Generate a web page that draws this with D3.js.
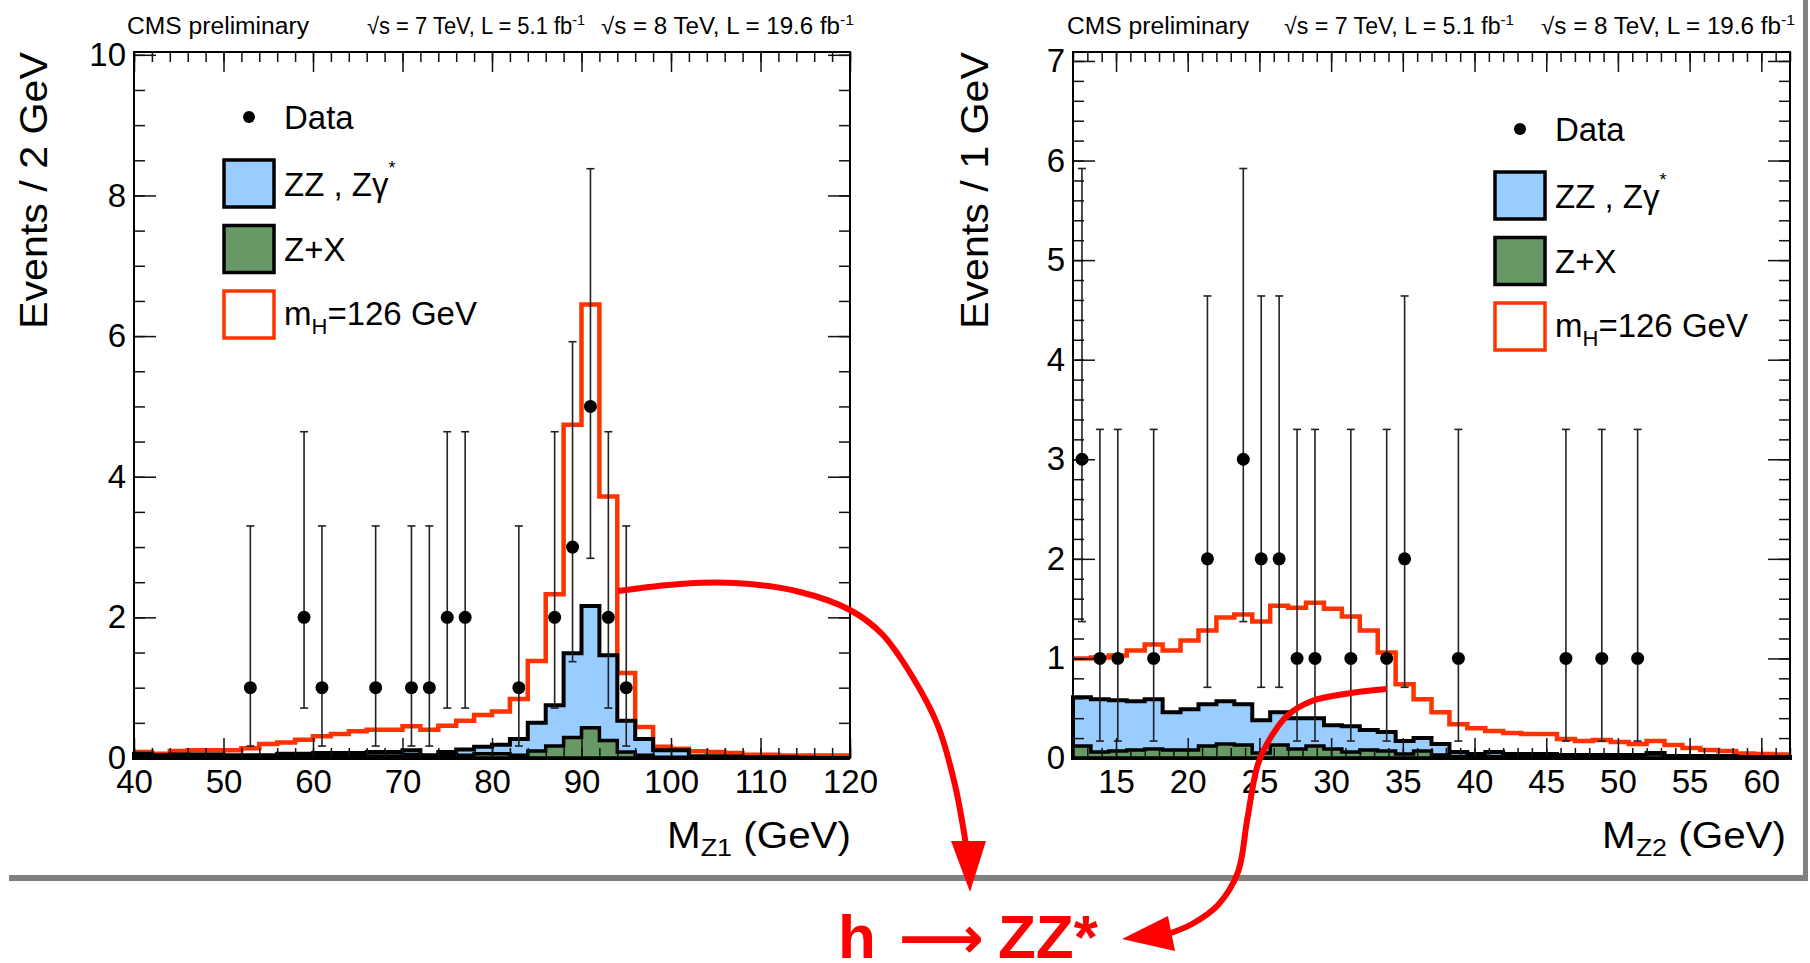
<!DOCTYPE html>
<html>
<head>
<meta charset="utf-8">
<script src="https://cdn.jsdelivr.net/npm/d3@7"></script>
<style>
  body { margin: 0; background: #fff; }
  svg { display: block; font-family: "Liberation Sans", Arial, Helvetica, sans-serif; }
</style>
</head>
<body>
<svg id="chart" width="1810" height="963"></svg>
<script>
// ---- M_Z1 panel: 40 bins of 2 GeV, 40..120
const z1Range = [40, 120];
const z1Bin = 2;
// stacked totals: signal+ZZ+Z+X (red), ZZ+Z+X (blue top), Z+X (green)
const z1Total = [0.085, 0.06, 0.1, 0.11, 0.11, 0.11, 0.14, 0.2, 0.22, 0.26,
                 0.31, 0.34, 0.38, 0.40, 0.40, 0.45, 0.40, 0.46, 0.53, 0.61,
                 0.66, 0.84, 1.38, 2.33, 4.74, 6.45, 3.72, 1.21, 0.44, 0.16,
                 0.13, 0.095, 0.085, 0.07, 0.045, 0.045, 0.035, 0.035, 0.035, 0.035];
const z1Bkg = [0.06, 0.04, 0.05, 0.05, 0.05, 0.04, 0.04, 0.04, 0.06, 0.06,
               0.07, 0.07, 0.07, 0.085, 0.085, 0.11, 0.04, 0.085, 0.12, 0.16,
               0.19, 0.27, 0.50, 0.75, 1.49, 2.16, 1.46, 0.53, 0.27, 0.11,
               0.11, 0.025, 0.025, 0.02, 0.01, 0.01, 0.01, 0.005, 0.0, 0.0];
const z1ZX = [0.025, 0.02, 0.02, 0.02, 0.02, 0.02, 0.02, 0.02, 0.02, 0.02,
              0.03, 0.03, 0.03, 0.03, 0.03, 0.05, 0.0, 0.04, 0.04, 0.06,
              0.06, 0.04, 0.1, 0.17, 0.29, 0.43, 0.25, 0.085, 0.04, 0.01,
              0.01, 0.01, 0.01, 0.01, 0.005, 0.005, 0.0, 0.0, 0.0, 0.0];
const z1DataX = [53, 59, 61, 67, 71, 73, 75, 77, 83, 87, 89, 91, 93, 95];
const z1DataN = [1, 2, 1, 1, 1, 1, 2, 2, 1, 2, 3, 5, 2, 1];
const z1ErrLo = [0.17, 0.71, 0.17, 0.17, 0.17, 0.17, 0.71, 0.71, 0.17, 0.71, 1.37, 2.84, 0.71, 0.17];
const z1ErrHi = [3.30, 4.64, 3.30, 3.30, 3.30, 3.30, 4.64, 4.64, 3.30, 4.64, 5.92, 8.38, 4.64, 3.30];

// ---- M_Z2 panel: 40 bins of 1.25 GeV, 12..62
const z2Range = [12, 62];
const z2Bin = 1.25;
const z2Total = [1.00, 1.01, 1.03, 1.08, 1.14, 1.08, 1.18, 1.28, 1.41, 1.44,
                 1.37, 1.53, 1.51, 1.56, 1.50, 1.42, 1.28, 1.06, 0.74, 0.59,
                 0.46, 0.34, 0.30, 0.27, 0.25, 0.24, 0.24, 0.19, 0.17, 0.18,
                 0.16, 0.14, 0.17, 0.13, 0.10, 0.08, 0.07, 0.045, 0.04, 0.035];
const z2Bkg = [0.61, 0.59, 0.58, 0.57, 0.59, 0.46, 0.49, 0.54, 0.57, 0.54,
               0.38, 0.46, 0.40, 0.40, 0.33, 0.32, 0.28, 0.26, 0.17, 0.20,
               0.14, 0.06, 0.04, 0.06, 0.04, 0.04, 0.04, 0.03, 0.03, 0.03,
               0.03, 0.03, 0.05, 0.02, 0.02, 0.02, 0.02, 0.01, 0.01, 0.01];
const z2ZX = [0.12, 0.06, 0.07, 0.08, 0.09, 0.08, 0.08, 0.12, 0.14, 0.13,
              0.05, 0.13, 0.09, 0.12, 0.09, 0.06, 0.08, 0.07, 0.04, 0.07,
              0.03, 0.015, 0.015, 0.015, 0.015, 0.01, 0.01, 0.01, 0.01, 0.01,
              0.01, 0.01, 0.04, 0.01, 0.01, 0.01, 0.01, 0.005, 0.005, 0.005];
const z2DataX = [12.625, 13.875, 15.125, 17.625, 21.375, 23.875, 25.125, 26.375, 27.625,
                 28.875, 31.375, 33.875, 35.125, 38.875, 46.375, 48.875, 51.375];
const z2DataN = [3, 1, 1, 1, 2, 3, 2, 2, 1, 1, 1, 1, 2, 1, 1, 1, 1];
const z2ErrLo = [1.37, 0.17, 0.17, 0.17, 0.71, 1.37, 0.71, 0.71, 0.17, 0.17, 0.17, 0.17, 0.71, 0.17, 0.17, 0.17, 0.17];
const z2ErrHi = [5.92, 3.30, 3.30, 3.30, 4.64, 5.92, 4.64, 4.64, 3.30, 3.30, 3.30, 3.30, 4.64, 3.30, 3.30, 3.30, 3.30];

// tick labels
const z1XTicks = [40, 50, 60, 70, 80, 90, 100, 110, 120];
const z1YTicks = [0, 2, 4, 6, 8, 10];
const z2XTicks = [15, 20, 25, 30, 35, 40, 45, 50, 55, 60];
const z2YTicks = [0, 1, 2, 3, 4, 5, 6, 7];

const RED = "#ff3300", BLUE = "#99ccff", GREEN = "#669966";
const FONT = '"Liberation Sans", Arial, Helvetica, sans-serif';

const svg = d3.select("#chart");
svg.append("rect").attr("width", 1810).attr("height", 963).attr("fill", "#fff");

function drawPanel(p) {
    let x = d3.scaleLinear().domain(p.xDom).range(p.xPx);
    let y = d3.scaleLinear().domain(p.yDom).range([758, 52]);
    let g = svg.append("g");

    let toPts = vals => vals.map((v, i) => [p.xDom[0] + i * p.bin, v])
        .concat([[p.xDom[1], vals[vals.length - 1]]]);
    let area = d3.area()
        .x(d => x(d[0]))
        .y0(y(0))
        .y1(d => y(d[1]))
        .curve(d3.curveStepAfter);
    let step = d3.line()
        .x(d => x(d[0]))
        .y(d => y(d[1]))
        .curve(d3.curveStepAfter);

    // stack, drawn top-down like THStack
    g.append("path").attr("d", step(toPts(p.total)))
        .attr("fill", "none").attr("stroke", RED).attr("stroke-width", 4.5);
    g.append("path").attr("d", area(toPts(p.bkg)))
        .attr("fill", BLUE).attr("stroke", "#000").attr("stroke-width", 4);
    g.append("path").attr("d", area(toPts(p.zx)))
        .attr("fill", GREEN).attr("stroke", "#000").attr("stroke-width", 3.5);

    // data with poisson error bars
    let pts = p.dataX.map((d, i) => ({ x: d, n: p.dataN[i], lo: p.errLo[i], hi: p.errHi[i] }));
    let dg = g.append("g").attr("stroke", "#222").attr("stroke-width", 1.6);
    dg.selectAll(".bar").data(pts).enter().append("line")
        .attr("x1", d => x(d.x)).attr("x2", d => x(d.x))
        .attr("y1", d => y(d.lo)).attr("y2", d => y(d.hi));
    ["lo", "hi"].forEach(k => {
        dg.selectAll(".cap" + k).data(pts).enter().append("line")
            .attr("x1", d => x(d.x) - 4).attr("x2", d => x(d.x) + 4)
            .attr("y1", d => y(d[k])).attr("y2", d => y(d[k]));
    });
    g.selectAll(".pt").data(pts).enter().append("circle")
        .attr("cx", d => x(d.x)).attr("cy", d => y(d.n)).attr("r", 6.5).attr("fill", "#000");

    // axes, ticks inside on all four sides
    let x0 = p.xPx[0], x1 = p.xPx[1];
    let xMinorVals = d3.range(p.xDom[0], p.xDom[1] + 0.01, p.xMinor);
    let yMinorVals = d3.range(0, p.yDom[1], p.yMinor);
    let axes = [
        [d3.axisBottom(x).tickValues(p.xTicks).tickSize(-20).tickPadding(12).tickFormat(d3.format("d")), `translate(0,758)`],
        [d3.axisBottom(x).tickValues(xMinorVals).tickSize(-10).tickFormat(""), `translate(0,758)`],
        [d3.axisTop(x).tickValues(p.xTicks).tickSize(-20).tickFormat(""), `translate(0,52)`],
        [d3.axisTop(x).tickValues(xMinorVals).tickSize(-10).tickFormat(""), `translate(0,52)`],
        [d3.axisLeft(y).tickValues(p.yTicks).tickSize(-22).tickPadding(8).tickFormat(d3.format("d")), `translate(${x0},0)`],
        [d3.axisLeft(y).tickValues(yMinorVals).tickSize(-11).tickFormat(""), `translate(${x0},0)`],
        [d3.axisRight(y).tickValues(p.yTicks).tickSize(-22).tickFormat(""), `translate(${x1},0)`],
        [d3.axisRight(y).tickValues(yMinorVals).tickSize(-11).tickFormat(""), `translate(${x1},0)`]
    ];
    axes.forEach(([ax, tr]) => {
        let a = g.append("g").attr("transform", tr).attr("color", "#111").call(ax.tickSizeOuter(0));
        a.select(".domain").remove();
        a.selectAll("line").attr("stroke-width", 1.5);
        a.selectAll("text").attr("font-size", 33).attr("font-family", FONT).attr("fill", "#000");
    });

    g.append("rect")
        .attr("x", x0).attr("y", 52).attr("width", x1 - x0).attr("height", 758 - 52)
        .attr("fill", "none").attr("stroke", "#000").attr("stroke-width", 2);

    // axis titles
    let xt = g.append("text").attr("x", p.xTitleX).attr("y", 848)
        .attr("font-size", 36).attr("textLength", 184).attr("lengthAdjust", "spacingAndGlyphs");
    xt.append("tspan").text("M");
    xt.append("tspan").attr("dy", 8).attr("font-size", 24).text(p.xSub);
    xt.append("tspan").attr("dy", -8).text(" (GeV)");

    g.append("text")
        .attr("transform", `translate(${p.yTitleX},329) rotate(-90)`)
        .attr("font-size", 38).attr("textLength", 277).attr("lengthAdjust", "spacingAndGlyphs")
        .text(p.yTitle);
}

drawPanel({
    xDom: z1Range, xPx: [134, 850], yDom: [0, 10.04], bin: z1Bin,
    total: z1Total, bkg: z1Bkg, zx: z1ZX,
    dataX: z1DataX, dataN: z1DataN, errLo: z1ErrLo, errHi: z1ErrHi,
    xTicks: z1XTicks, xMinor: 2, yTicks: z1YTicks, yMinor: 0.5,
    xTitleX: 667, xSub: "Z1", yTitleX: 47, yTitle: "Events / 2 GeV"
});
drawPanel({
    xDom: z2Range, xPx: [1073, 1790], yDom: [0, 7.09], bin: z2Bin,
    total: z2Total, bkg: z2Bkg, zx: z2ZX,
    dataX: z2DataX, dataN: z2DataN, errLo: z2ErrLo, errHi: z2ErrHi,
    xTicks: z2XTicks, xMinor: 1, yTicks: z2YTicks, yMinor: 0.2,
    xTitleX: 1602, xSub: "Z2", yTitleX: 988, yTitle: "Events / 1 GeV"
});

// legends
function drawLegend(cx, cy) {
    let g = svg.append("g").attr("font-size", 33);
    g.append("circle").attr("cx", cx).attr("cy", cy).attr("r", 6).attr("fill", "#000");
    g.append("text").attr("x", cx + 35).attr("y", cy + 12).text("Data");
    let rows = [
        { fill: BLUE, stroke: "#000" },
        { fill: GREEN, stroke: "#000" },
        { fill: "#fff", stroke: RED }
    ];
    rows.forEach((r, i) => {
        let ry = cy + 66.5 + i * 65.5;
        g.append("rect").attr("x", cx - 25).attr("y", ry - 23.5).attr("width", 50).attr("height", 47)
            .attr("fill", r.fill).attr("stroke", r.stroke).attr("stroke-width", 3.5);
    });
    let t1 = g.append("text").attr("x", cx + 35).attr("y", cy + 66.5 + 12);
    t1.append("tspan").text("ZZ , Z\u03b3");
    t1.append("tspan").attr("dy", -22).attr("font-size", 18).text("*");
    g.append("text").attr("x", cx + 35).attr("y", cy + 132 + 12).text("Z+X");
    let t3 = g.append("text").attr("x", cx + 35).attr("y", cy + 197.5 + 10);
    t3.append("tspan").text("m");
    t3.append("tspan").attr("dy", 9).attr("font-size", 22).text("H");
    t3.append("tspan").attr("dy", -9).text("=126 GeV");
}
drawLegend(249, 117);
drawLegend(1520, 129);

// headers
function drawHeader(cmsX, aX, aW, bX, bW) {
    let g = svg.append("g").attr("font-size", 23);
    g.append("text").attr("x", cmsX).attr("y", 34).attr("textLength", 182)
        .attr("lengthAdjust", "spacingAndGlyphs").text("CMS preliminary");
    [[aX, aW, "7", "5.1"], [bX, bW, "8", "19.6"]].forEach(([x, w, e, l]) => {
        let t = g.append("text").attr("x", x).attr("y", 34).attr("textLength", w)
            .attr("lengthAdjust", "spacingAndGlyphs");
        t.append("tspan").text(`\u221as = ${e} TeV, L = ${l} fb`);
        t.append("tspan").attr("dy", -9).attr("font-size", 15).text("-1");
    });
}
drawHeader(127, 367, 218, 601, 253);
drawHeader(1067, 1284, 230, 1541, 254);

// page frame lines
svg.append("rect").attr("x", 9).attr("y", 875).attr("width", 1798).attr("height", 6).attr("fill", "#808080");
svg.append("rect").attr("x", 1803).attr("y", 0).attr("width", 5).attr("height", 881).attr("fill", "#808080");

// red annotation arrows
let curve = d3.line().curve(d3.curveCatmullRom);
let ann = svg.append("g");
ann.append("path")
    .attr("d", curve([[618, 591], [680, 584], [735, 583], [800, 592], [850, 610], [882, 634],
                      [912, 676], [938, 726], [955, 785], [966, 845]]))
    .attr("fill", "none").attr("stroke", "#ff0000").attr("stroke-width", 6);
ann.append("path").attr("d", "M951,841 L986,841 L970,892 Z").attr("fill", "#ff0000");
ann.append("path")
    .attr("d", curve([[1387, 689], [1351, 693], [1312, 701], [1288, 715], [1271, 737], [1258, 764],
                      [1247, 821], [1238, 872], [1218, 905], [1192, 924], [1168, 934]]))
    .attr("fill", "none").attr("stroke", "#ff0000").attr("stroke-width", 6);
ann.append("path").attr("d", "M1168,916 L1175,951 L1122,939 Z").attr("fill", "#ff0000");

// h -> ZZ*
let hz = svg.append("g").attr("fill", "#ff0000").attr("font-weight", "bold");
hz.append("text").attr("x", 838).attr("y", 958).attr("font-size", 62).text("h");
hz.append("text").attr("x", 899).attr("y", 958).attr("font-size", 58)
    .attr("font-family", '"DejaVu Sans", sans-serif')
    .attr("textLength", 85).attr("lengthAdjust", "spacingAndGlyphs").text("\u27f6");
hz.append("text").attr("x", 998).attr("y", 958).attr("font-size", 62).text("ZZ*");
</script>
</body>
</html>
